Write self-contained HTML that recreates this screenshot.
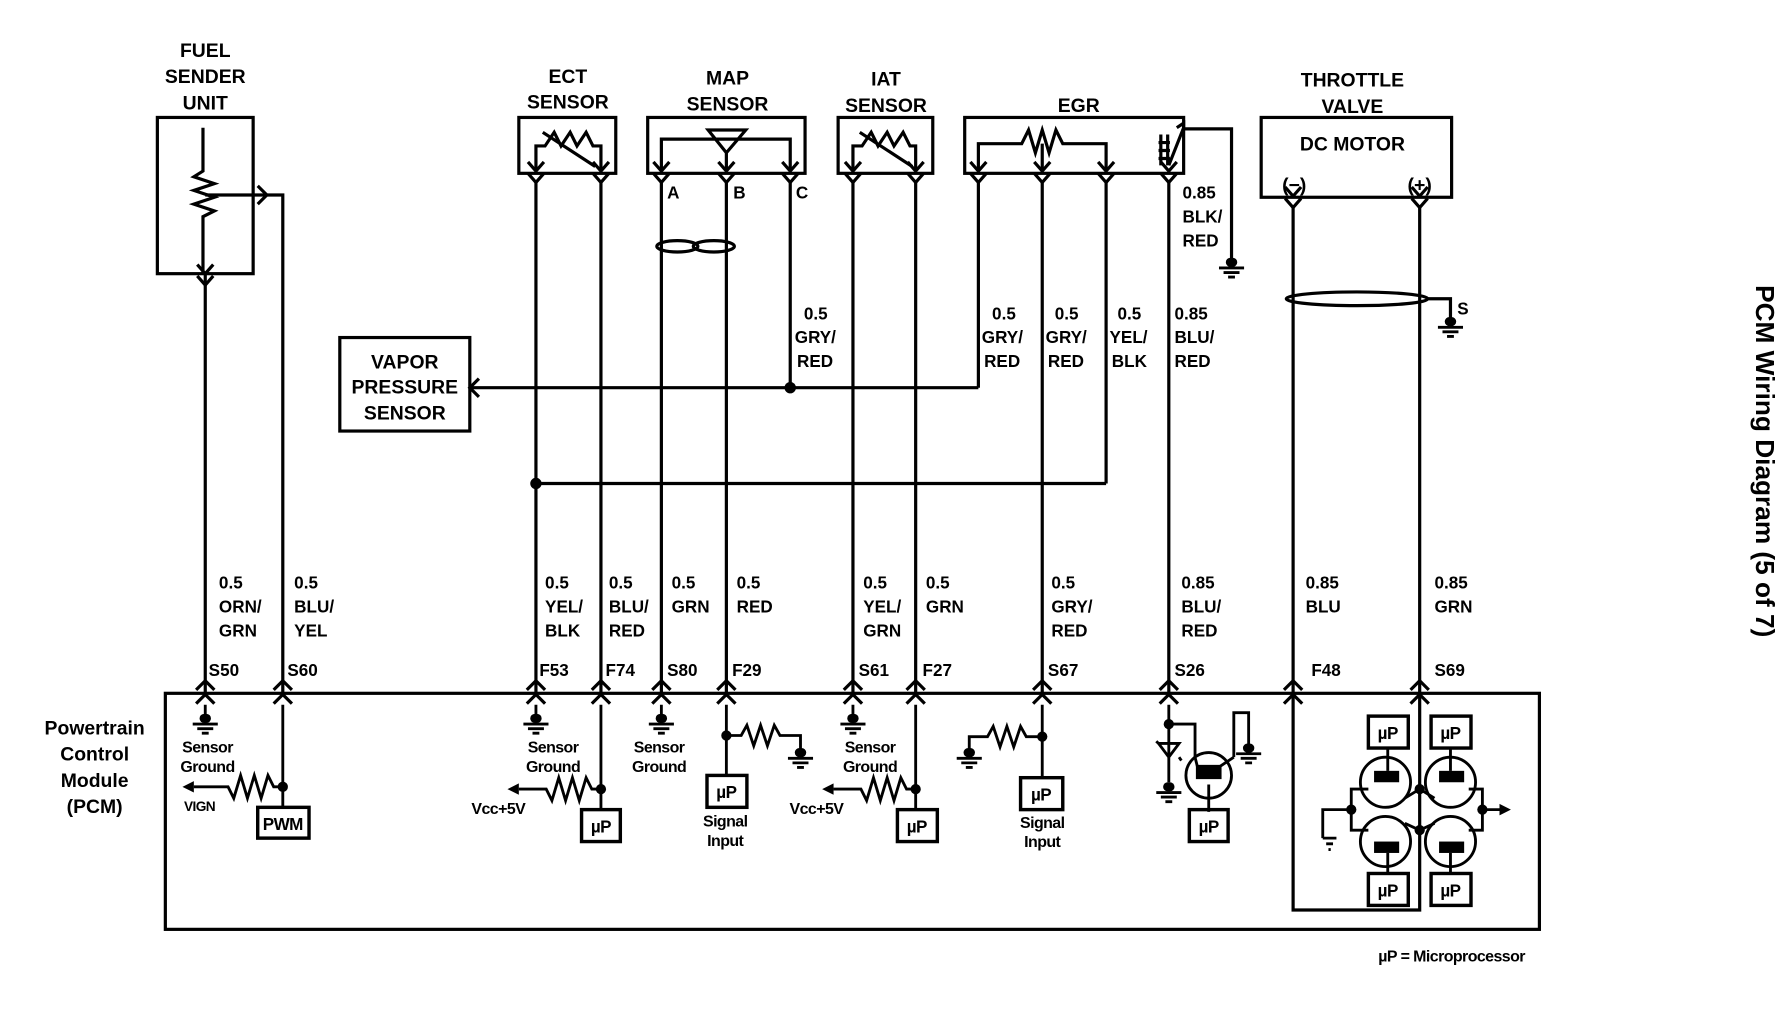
<!DOCTYPE html>
<html><head><meta charset="utf-8"><style>
html,body{margin:0;padding:0;background:#fff;}
svg{display:block;}
text{font-family:"Liberation Sans",sans-serif;font-weight:bold;fill:#000;}
</style></head><body>
<svg width="1788" height="1024" viewBox="0 0 1568 898" preserveAspectRatio="none" xmlns="http://www.w3.org/2000/svg">
<defs>
<g id="gnd"><rect x="-5" y="0" width="10" height="8" rx="4" fill="#000"/><path d="M-11 9H11M-7 13H7M-3 17H3" stroke="#000" stroke-width="2.5"/></g>
<g id="cdn"><path d="M-7 -8L0 0L7 -8M-7 2L0 10L7 2" fill="none" stroke="#000" stroke-width="2.8"/></g>
<g id="cup"><path d="M-8 8L0 0L8 8M-8 20L0 12L8 20" fill="none" stroke="#000" stroke-width="2.8"/></g>
</defs>
<g fill="none" stroke="#000" stroke-width="2.8">
<!-- FUEL -->
<rect x="138" y="103" width="84" height="137"/>
<path d="M178 112V150L170 155L188 161L170 167L188 173L170 179L188 185L178 190V240"/>
<path d="M180 171H225M225 171H248V608M180 240V608"/>
<path d="M226 163L234 171L226 179"/>
<use href="#cdn" x="180" y="240"/>
<!-- ECT -->
<rect x="455" y="103" width="85" height="49"/>
<path d="M470 150V128H478L486 116L492 128L500 116L506 128L514 116L520 128H527V150M476 116L522 146"/>
<use href="#cdn" x="470" y="150"/><use href="#cdn" x="527" y="150"/>
<!-- MAP -->
<rect x="568" y="103" width="138" height="49"/>
<path d="M580 150V122H693V150M621 114H654L637 134ZM637 134V150"/>
<use href="#cdn" x="580" y="150"/><use href="#cdn" x="637" y="150"/><use href="#cdn" x="693" y="150"/>
<ellipse cx="594" cy="216" rx="18" ry="5"/><ellipse cx="626" cy="216" rx="18" ry="5"/>
<!-- IAT -->
<rect x="735" y="103" width="83" height="49"/>
<path d="M748 150V128H756L764 116L770 128L778 116L784 128L792 116L798 128H803V150M754 116L800 146"/>
<use href="#cdn" x="748" y="150"/><use href="#cdn" x="803" y="150"/>
<!-- EGR -->
<rect x="846" y="103" width="192" height="49"/>
<path d="M858 150V126H896L902 114L908 134L914 114L920 134L926 114L932 126H970V150M914 126V150"/>
<path d="M1018 118V145M1024 118v27M1016 125h10M1016 132h10M1016 139h10M1025 145L1038 112V108L1032 112M1038 113H1080V232"/>
<use href="#cdn" x="858" y="150"/><use href="#cdn" x="914" y="150"/><use href="#cdn" x="970" y="150"/><use href="#cdn" x="1025" y="150"/>
<!-- THROTTLE -->
<rect x="1106" y="103" width="167" height="70"/>
<use href="#cdn" x="1134" y="172"/><use href="#cdn" x="1245" y="172"/>
<ellipse cx="1190" cy="262" rx="62" ry="6"/>
<path d="M1252 262H1272V282"/>
<!-- vertical wires -->
<path d="M470 160V608M527 160V608M580 160V608M637 160V608M693 160V340M748 160V608M803 160V608M858 160V340M914 160V608M970 160V424M1025 160V608M1134 182V798H1245V182"/>
<path d="M412 340H858M470 424H970"/>
<path d="M420 332L412 340L420 348"/>
<rect x="298" y="296" width="114" height="82"/>
<!-- PCM -->
<rect x="145" y="608" width="1205" height="207"/>
</g>
<g fill="#000">
<circle cx="693" cy="340" r="5"/><circle cx="470" cy="424" r="5"/>
<use href="#gnd" x="1080" y="226"/><use href="#gnd" x="1272" y="278"/>
</g>
<use href="#cup" x="180" y="597"/><use href="#cup" x="248" y="597"/><use href="#cup" x="470" y="597"/><use href="#cup" x="527" y="597"/><use href="#cup" x="580" y="597"/><use href="#cup" x="637" y="597"/><use href="#cup" x="748" y="597"/><use href="#cup" x="803" y="597"/><use href="#cup" x="914" y="597"/><use href="#cup" x="1025" y="597"/><use href="#cup" x="1134" y="597"/><use href="#cup" x="1245" y="597"/>
<!-- PCM internals -->
<g fill="none" stroke="#000" stroke-width="2.5">
<path d="M180 618V628M470 618V628M580 618V628M748 618V628"/>
<path d="M248 618V708M248 690H240L235 680L229 700L223 680L217 700L211 680L205 700L200 690H170"/>
<path d="M527 618V710M527 692H519L514 682L508 702L502 682L496 702L490 682L484 702L479 692H455"/>
<path d="M803 618V710M803 692H795L790 682L784 702L778 682L772 702L766 682L760 702L755 692H731"/>
<path d="M637 618V680M637 645H650L655 636L661 654L667 636L673 654L679 636L684 645H702V656"/>
<path d="M914 618V682M914 646H900L895 637L889 655L883 637L877 655L871 637L866 646H850V656"/>
<path d="M1025 618V686M1025 635H1048V664M1016 652H1034L1025 664ZM1014 650L1016 652M1034 664L1036 667M1082 664V625H1095V656"/>
<circle cx="1060" cy="680" r="20"/><path d="M1050 672L1048 664M1070 672L1082 664M1060 688V712"/>
<rect x="1050" y="672" width="20" height="10" fill="#000"/>
<rect x="226" y="708" width="45" height="27" stroke-width="3"/>
<rect x="510" y="710" width="34" height="28" stroke-width="3"/>
<rect x="620" y="680" width="35" height="28" stroke-width="3"/>
<rect x="787" y="710" width="35" height="28" stroke-width="3"/>
<rect x="895" y="682" width="37" height="28" stroke-width="3"/>
<rect x="1043" y="710" width="34" height="28" stroke-width="3"/>
<!-- H-bridge -->
<rect x="1200" y="628" width="35" height="28" stroke-width="3"/>
<rect x="1255" y="628" width="35" height="28" stroke-width="3"/>
<rect x="1200" y="766" width="35" height="28" stroke-width="3"/>
<rect x="1255" y="766" width="35" height="28" stroke-width="3"/>
<circle cx="1215" cy="686" r="22"/><circle cx="1272" cy="686" r="22"/>
<circle cx="1215" cy="738" r="22"/><circle cx="1272" cy="738" r="22"/>
<path d="M1217 656V676M1272 656V676M1217 766V748M1272 766V748"/>
<path d="M1185 710V692H1200M1185 710V728H1200M1300 710V692H1288M1300 710V728H1288M1232 700L1245 692L1258 700M1232 722L1245 728L1258 722M1185 710H1160V735M1300 710H1315"/>
</g>
<g fill="#000">
<use href="#gnd" x="180" y="626"/><use href="#gnd" x="470" y="626"/><use href="#gnd" x="580" y="626"/><use href="#gnd" x="748" y="626"/>
<use href="#gnd" x="702" y="656"/><use href="#gnd" x="850" y="656"/><use href="#gnd" x="1095" y="652"/><use href="#gnd" x="1025" y="686"/>
<circle cx="248" cy="690" r="4.5"/><circle cx="527" cy="692" r="4.5"/><circle cx="803" cy="692" r="4.5"/><circle cx="637" cy="645" r="4.5"/><circle cx="914" cy="646" r="4.5"/><circle cx="1025" cy="635" r="4.5"/>
<circle cx="1185" cy="710" r="4.5"/><circle cx="1300" cy="710" r="4.5"/><circle cx="1245" cy="692" r="4.5"/><circle cx="1245" cy="728" r="4.5"/>
<path d="M160 690L170 685V695Z M445 692L455 687V697Z M721 692L731 687V697Z M1325 710L1315 705V715Z"/>
<rect x="1205" y="676" width="22" height="10"/><rect x="1262" y="676" width="22" height="10"/><rect x="1205" y="738" width="22" height="10"/><rect x="1262" y="738" width="22" height="10"/>
<path d="M1160 735H1172M1163 740H1169M1165 745H1167" stroke="#000" stroke-width="2.5"/>
</g>
<!-- TEXT -->
<g font-size="17" text-anchor="middle">
<text x="180" y="50">FUEL</text><text x="180" y="73">SENDER</text><text x="180" y="96">UNIT</text>
<text x="498" y="73">ECT</text><text x="498" y="95">SENSOR</text>
<text x="638" y="74">MAP</text><text x="638" y="97">SENSOR</text>
<text x="777" y="75">IAT</text><text x="777" y="98">SENSOR</text>
<text x="946" y="98">EGR</text>
<text x="1186" y="76">THROTTLE</text><text x="1186" y="99">VALVE</text>
<text x="1186" y="132">DC MOTOR</text>
<text x="355" y="323">VAPOR</text><text x="355" y="345">PRESSURE</text><text x="355" y="368">SENSOR</text>
<text x="83" y="644">Powertrain</text><text x="83" y="667">Control</text><text x="83" y="690">Module</text><text x="83" y="713">(PCM)</text>
<text x="1135" y="168">(−)</text><text x="1245" y="168">(+)</text>
</g>
<g font-size="15">
<text x="585" y="174">A</text><text x="643" y="174">B</text><text x="698" y="174">C</text>
<text x="1278" y="276">S</text>
<text x="1037" y="174">0.85</text><text x="1037" y="195">BLK/</text><text x="1037" y="216">RED</text>
<text x="705" y="280">0.5</text><text x="697" y="301">GRY/</text><text x="699" y="322">RED</text>
<text x="870" y="280">0.5</text><text x="861" y="301">GRY/</text><text x="863" y="322">RED</text>
<text x="925" y="280">0.5</text><text x="917" y="301">GRY/</text><text x="919" y="322">RED</text>
<text x="980" y="280">0.5</text><text x="973" y="301">YEL/</text><text x="975" y="322">BLK</text>
<text x="1030" y="280">0.85</text><text x="1030" y="301">BLU/</text><text x="1030" y="322">RED</text>
<text x="192" y="516">0.5</text><text x="192" y="537">ORN/</text><text x="192" y="558">GRN</text>
<text x="258" y="516">0.5</text><text x="258" y="537">BLU/</text><text x="258" y="558">YEL</text>
<text x="478" y="516">0.5</text><text x="478" y="537">YEL/</text><text x="478" y="558">BLK</text>
<text x="534" y="516">0.5</text><text x="534" y="537">BLU/</text><text x="534" y="558">RED</text>
<text x="589" y="516">0.5</text><text x="589" y="537">GRN</text>
<text x="646" y="516">0.5</text><text x="646" y="537">RED</text>
<text x="757" y="516">0.5</text><text x="757" y="537">YEL/</text><text x="757" y="558">GRN</text>
<text x="812" y="516">0.5</text><text x="812" y="537">GRN</text>
<text x="922" y="516">0.5</text><text x="922" y="537">GRY/</text><text x="922" y="558">RED</text>
<text x="1036" y="516">0.85</text><text x="1036" y="537">BLU/</text><text x="1036" y="558">RED</text>
<text x="1145" y="516">0.85</text><text x="1145" y="537">BLU</text>
<text x="1258" y="516">0.85</text><text x="1258" y="537">GRN</text>
<text x="183" y="593">S50</text><text x="252" y="593">S60</text><text x="473" y="593">F53</text><text x="531" y="593">F74</text><text x="585" y="593">S80</text><text x="642" y="593">F29</text><text x="753" y="593">S61</text><text x="809" y="593">F27</text><text x="919" y="593">S67</text><text x="1030" y="593">S26</text><text x="1150" y="593">F48</text><text x="1258" y="593">S69</text>
</g>
<g font-size="14" text-anchor="middle" letter-spacing="-0.5">
<text x="182" y="660">Sensor</text><text x="182" y="677">Ground</text>
<text x="485" y="660">Sensor</text><text x="485" y="677">Ground</text>
<text x="578" y="660">Sensor</text><text x="578" y="677">Ground</text>
<text x="763" y="660">Sensor</text><text x="763" y="677">Ground</text>
<text x="636" y="725">Signal</text><text x="636" y="742">Input</text>
<text x="914" y="726">Signal</text><text x="914" y="743">Input</text>
<text x="437" y="714">Vcc+5V</text><text x="716" y="714">Vcc+5V</text>
<text x="175" y="711" font-size="12">VIGN</text>
<text x="248" y="728" font-size="15">PWM</text>
<text x="527" y="730" font-size="15">µP</text><text x="637" y="700" font-size="15">µP</text><text x="804" y="730" font-size="15">µP</text><text x="913" y="702" font-size="15">µP</text><text x="1060" y="730" font-size="15">µP</text>
<text x="1217" y="648" font-size="15">µP</text><text x="1272" y="648" font-size="15">µP</text><text x="1217" y="786" font-size="15">µP</text><text x="1272" y="786" font-size="15">µP</text>
<text x="1273" y="843">µP = Microprocessor</text>
</g>
<text x="0" y="0" font-size="23" transform="translate(1540,250) rotate(90)">PCM Wiring Diagram (5 of 7)</text>
</svg>
</body></html>
